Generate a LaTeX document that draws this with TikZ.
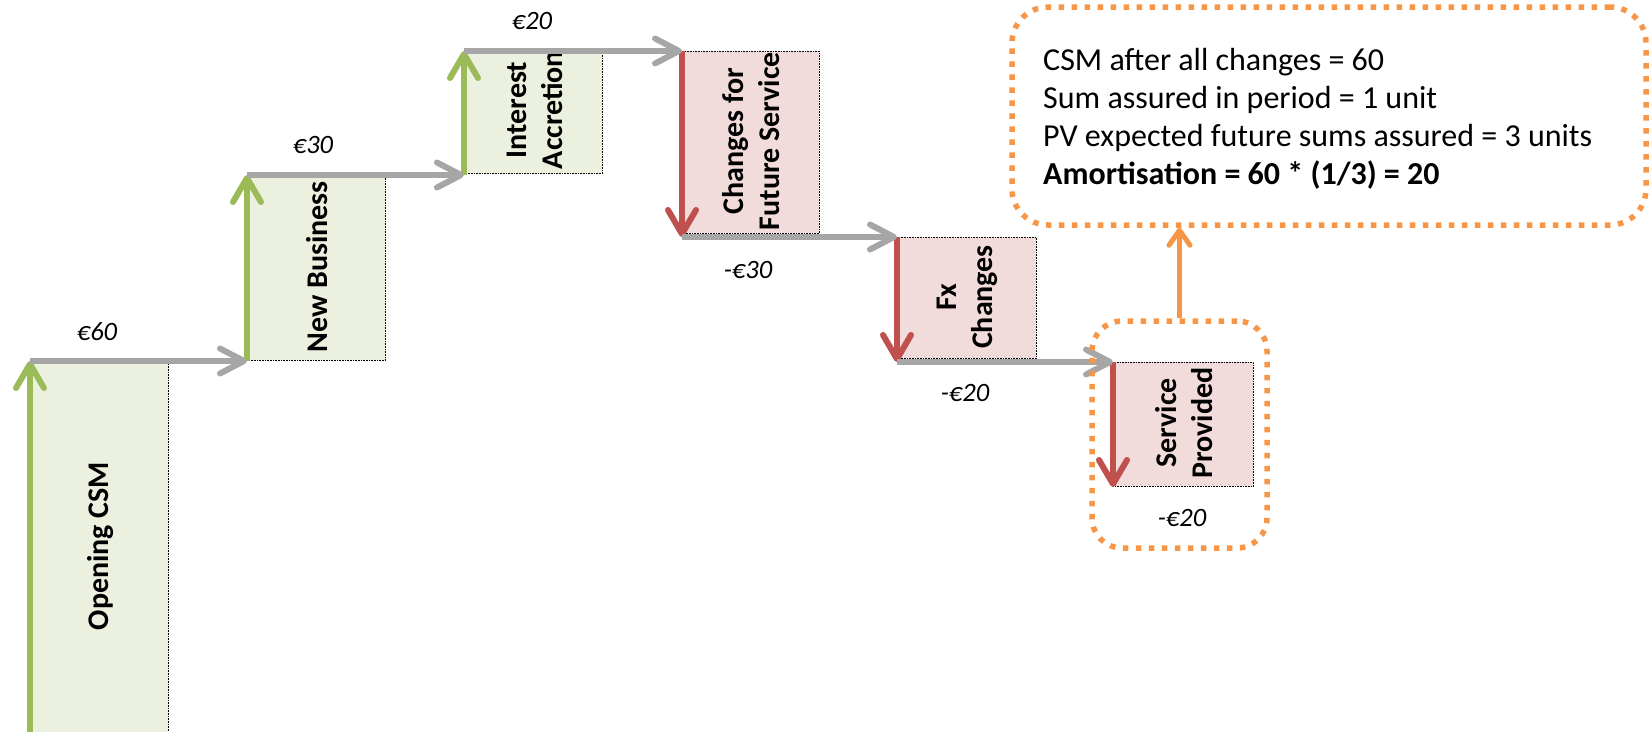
\documentclass[tikz,border=0pt]{standalone}
\usepackage{fontspec}
\setmainfont{Carlito}
\usetikzlibrary{arrows.meta}
\definecolor{upgreen}{HTML}{9BBB59}
\definecolor{paleg}{HTML}{EBF1DE}
\definecolor{downred}{HTML}{C0504D}
\definecolor{palered}{HTML}{F2DCDB}
\definecolor{flowgray}{HTML}{A6A6A6}
\definecolor{noteorange}{HTML}{F79646}
\begin{document}
\begin{tikzpicture}[x=1pt,y=-1pt,
  boxbase/.style={draw=black, line width=0.6pt, densely dotted, inner sep=0pt, anchor=north west},
  gainbox/.style={boxbase, fill=paleg},
  lossbox/.style={boxbase, fill=palered},
  steplabel/.style={rotate=90, font=\fontsize{30}{36}\selectfont\bfseries, align=center, inner sep=0pt},
  amount/.style={font=\fontsize{26.5}{30}\selectfont\itshape, inner sep=0pt},
  flow/.style={line width=6pt, draw=flowgray, -{Straight Barb[round,length=24pt,width=25pt]}},
  rise/.style={line width=6pt, draw=upgreen, -{Straight Barb[round,length=24pt,width=28pt]}},
  fall/.style={line width=6pt, draw=downred, -{Straight Barb[round,length=24pt,width=28pt]}},
  dotframe/.style={draw=noteorange, line width=5.5pt, dash pattern=on 5.5pt off 7.5pt, inner sep=0pt},
  notetext/.style={font=\fontsize{32}{38}\selectfont, anchor=base west, inner sep=0pt},
  callout/.style={line width=5pt, draw=noteorange, -{Straight Barb[round,length=15pt,width=21pt]}}
  ]
\useasboundingbox (0,0) rectangle (1652,731);

% bars of the waterfall
\node[gainbox, minimum width=138pt, minimum height=374pt] (open) at (30,361) {};
\node[gainbox, minimum width=138pt, minimum height=185pt] (newb) at (247,175) {};
\node[gainbox, minimum width=138pt, minimum height=122pt] (intr) at (464,51) {};
\node[lossbox, minimum width=137pt, minimum height=182pt] (cfs) at (682,51) {};
\node[lossbox, minimum width=139pt, minimum height=121pt] (fxc) at (897,237) {};
\node[lossbox, minimum width=140pt, minimum height=124pt] (svc) at (1113,362) {};

% bar captions
\node[steplabel] (openl) at (101,546) {Opening CSM};
\node[steplabel] (newbl) at (317,267) {New Business};
\node[steplabel] (intrl) at (535,110) {Interest\\Accretion};
\node[steplabel] (cfsl) at (751,141) {Changes for\\Future Service};
\node[steplabel] (fxcl) at (967,297) {Fx\\Changes};
\node[steplabel] (svcl) at (1184,423) {Service\\Provided};

% step points
\coordinate (p0) at (30,736);
\coordinate (p1) at (30,361);
\coordinate (p2) at (247,361);
\coordinate (p3) at (247,175);
\coordinate (p4) at (464,175);
\coordinate (p5) at (464,51);
\coordinate (p6) at (682,51);
\coordinate (p7) at (682,237);
\coordinate (p8) at (897,237);
\coordinate (p9) at (897,362);
\coordinate (p10) at (1113,362);
\coordinate (p11) at (1113,487);

% movements
\draw[rise] (p0) -- (p1);
\draw[rise] (p2) -- (p3);
\draw[rise] (p4) -- (p5);
\draw[fall] (p6) -- (p7);
\draw[fall] (p8) -- (p9);
\draw[fall] (p10) -- (p11);

% carry-forward arrows
\draw[flow] (p1) -- (p2);
\draw[flow] (p3) -- (p4);
\draw[flow] (p5) -- (p6);
\draw[flow] (p7) -- (p8);
\draw[flow] (p9) -- (p10);

% amounts
\node[amount] (a1) at (97,332) {€60};
\node[amount] (a2) at (313,145) {€30};
\node[amount] (a3) at (532,21) {€20};
\node[amount] (a4) at (748,270) {-€30};
\node[amount] (a5) at (965,393) {-€20};
\node[amount] (a6) at (1182,518) {-€20};

% amortisation note
\node[dotframe, rounded corners=30pt, minimum width=175pt, minimum height=227pt] (spframe) at (1179.5,434.5) {};
\node[dotframe, rounded corners=36pt, minimum width=634pt, minimum height=218pt] (note) at (1329,116) {};
\node[notetext] (n1) at (1043,70) {CSM after all changes = 60};
\node[notetext] (n2) at (1043,108) {Sum assured in period = 1 unit};
\node[notetext] (n3) at (1043,146) {PV expected future sums assured = 3 units};
\node[notetext, font=\fontsize{32}{38}\selectfont\bfseries] (n4) at (1043,184) {Amortisation = 60 * (1/3) = 20};
\draw[callout] (spframe.north) -- (spframe.north |- note.south);
\end{tikzpicture}
\end{document}
